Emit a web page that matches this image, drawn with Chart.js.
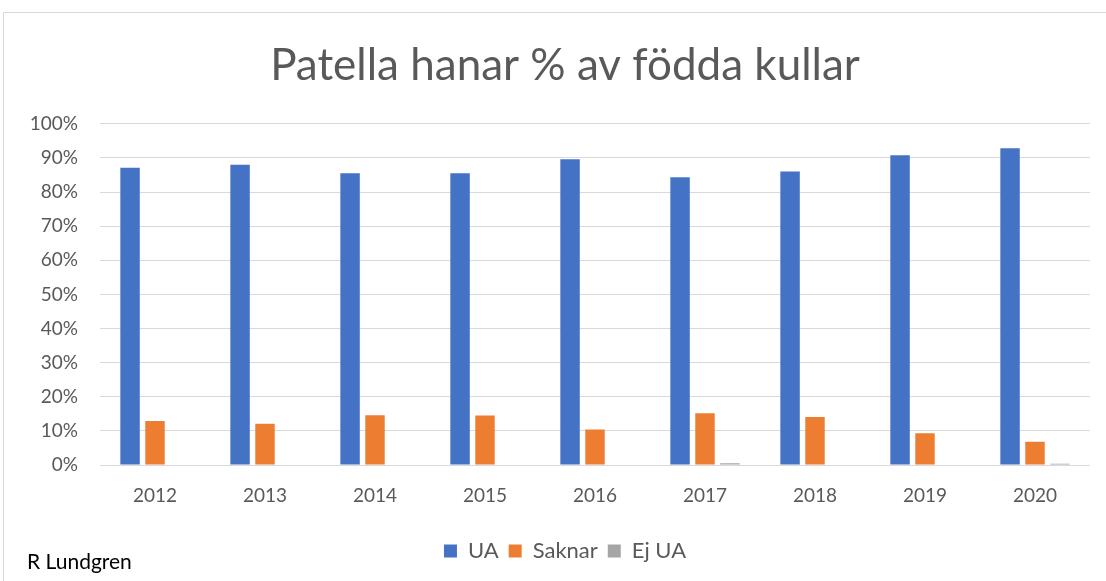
<!DOCTYPE html>
<html>
<head>
<meta charset="utf-8">
<script src="https://cdn.jsdelivr.net/npm/chart.js@4"></script>
<style>
  html, body { margin: 0; padding: 0; background: #fff; }
  #wrap { position: relative; width: 1106px; height: 581px; }
  #signature {
    position: absolute; left: 27px; top: 548px; line-height: 26px;
    font-family: Lato, "Open Sans", sans-serif; font-size: 21px; color: #000;
  }
</style>
</head>
<body>
<div id="wrap">
  <canvas id="chart" width="1106" height="581"></canvas>
  <div id="signature">R Lundgren</div>
</div>
<script>
const years = ['2012', '2013', '2014', '2015', '2016', '2017', '2018', '2019', '2020'];
const ua     = [87.1, 88.0, 85.5, 85.5, 89.6, 84.3, 86.0, 90.8, 92.8];
const saknar = [12.9, 12.1, 14.6, 14.5, 10.4, 15.2, 14.1,  9.3,  6.8];
const ejUa   = [0, 0, 0, 0, 0, 0.5, 0, 0, 0.4];
const yTicks = [0, 10, 20, 30, 40, 50, 60, 70, 80, 90, 100];

const textColor = '#595959';
const fontFamily = 'Lato, "Open Sans", sans-serif';

// light frame round the chart, like the spreadsheet chart box
const framePlugin = {
  id: 'frame',
  beforeDraw(chart) {
    const ctx = chart.ctx;
    ctx.save();
    ctx.strokeStyle = '#d9d9d9';
    ctx.lineWidth = 1;
    ctx.beginPath();
    ctx.moveTo(3.5, 581);
    ctx.lineTo(3.5, 12.5);
    ctx.lineTo(1106, 12.5);
    ctx.stroke();
    ctx.restore();
  }
};

const barStyle = { categoryPercentage: 0.68, barPercentage: 0.78 };

new Chart(document.getElementById('chart').getContext('2d'), {
  type: 'bar',
  data: {
    labels: years,
    datasets: [
      { label: 'UA', data: ua, backgroundColor: '#4472c4', ...barStyle },
      { label: 'Saknar', data: saknar, backgroundColor: '#ed7d31', ...barStyle },
      { label: 'Ej UA', data: ejUa, backgroundColor: '#a5a5a5', ...barStyle }
    ]
  },
  options: {
    responsive: false,
    animation: false,
    layout: { padding: { left: 24, right: 0, top: 0, bottom: 9 } },
    plugins: {
      title: {
        display: true,
        text: 'Patella hanar % av födda kullar',
        color: textColor,
        font: { family: fontFamily, size: 44, weight: 'normal' },
        padding: { top: 39, bottom: 32 }
      },
      legend: {
        position: 'bottom',
        labels: {
          color: textColor,
          font: { family: fontFamily, size: 22 },
          boxWidth: 13,
          boxHeight: 13,
          padding: 10
        }
      },
      tooltip: { enabled: false }
    },
    scales: {
      x: {
        grid: { display: false },
        border: { display: false },
        ticks: { color: textColor, font: { family: fontFamily, size: 19 }, padding: 11 },
        afterFit(scale) { scale.height = 65; }
      },
      y: {
        min: 0,
        max: 100,
        grid: { color: '#d9d9d9', drawTicks: false },
        border: { display: false },
        afterBuildTicks(scale) { scale.ticks = yTicks.map(v => ({ value: v })); },
        ticks: {
          color: textColor,
          font: { family: fontFamily, size: 19 },
          padding: 22,
          callback: v => v + '%'
        },
        afterFit(scale) { scale.width = 76; }
      },
      // empty right-hand spacer so the plot ends where the original does
      spacer: {
        position: 'right',
        grid: { display: false },
        border: { display: false },
        ticks: { display: false },
        afterFit(scale) { scale.width = 16; }
      }
    }
  },
  plugins: [framePlugin]
});
</script>
</body>
</html>
